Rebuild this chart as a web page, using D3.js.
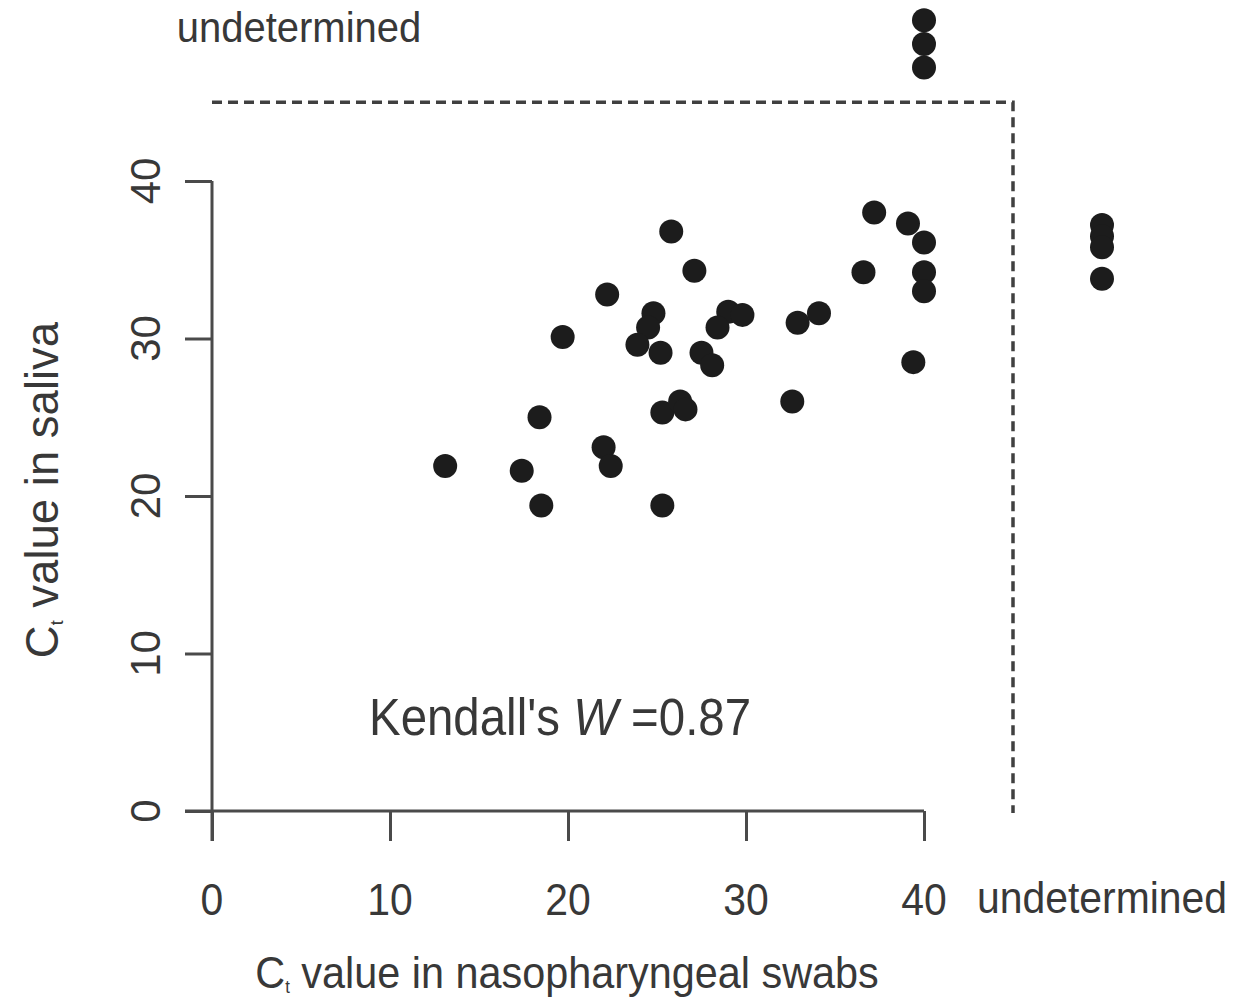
<!DOCTYPE html>
<html><head><meta charset="utf-8">
<script src="https://cdn.jsdelivr.net/npm/d3@7"></script>
<style>body{margin:0;background:#fff}svg{display:block}text{font-family:"Liberation Sans",Arial,sans-serif;fill:#383838}</style>
</head><body>
<svg id="c" width="1256" height="1000"></svg>
<script>
// Determined pairs: Ct in nasopharyngeal swab (x) and saliva (y)
const npSwab = [13.1,17.4,18.5,18.4,19.7,22.2,22.0,22.4,25.3,25.8,27.1,24.8,24.5,23.9,25.2,29.0,29.8,28.4,27.5,28.1,25.3,26.3,26.6,37.2,39.1,40.0,36.6,40.0,40.0,32.9,34.1,39.4,32.6];
const saliva = [21.9,21.6,19.4,25.0,30.1,32.8,23.1,21.9,19.4,36.8,34.3,31.6,30.7,29.6,29.1,31.7,31.5,30.7,29.1,28.3,25.3,26.0,25.5,38.0,37.3,36.1,34.2,34.2,33.0,31.0,31.6,28.5,26.0];
// Saliva undetermined (drawn in the top band): NP swab values, stacked positions
const salivaUndetNP = [40,40,40];
const salivaUndetStack = [47.2,48.7,50.2];
// NP swab undetermined (drawn in the right band): saliva values
const npUndetSaliva = [37.2,36.5,35.8,33.8];
const undetPos = 50;
const cutoff = 45;
const xTicks = [0,10,20,30,40];
const yTicks = [0,10,20,30,40];

const svg = d3.select("#c");
const x = d3.scaleLinear().domain([0,50]).range([212,1102]);
const y = d3.scaleLinear().domain([0,50]).range([811,23.5]);
const axisCol = "#4a4a4a";

// axes
const gx = svg.append("g").attr("transform",`translate(0,${y(0)})`)
  .call(d3.axisBottom(x).tickValues(xTicks).tickSize(30).tickSizeOuter(0).tickFormat(""));
gx.select(".domain").remove();
gx.append("line").attr("x1",x(0)-27).attr("x2",x(40)).attr("stroke",axisCol).attr("stroke-width",3);
gx.selectAll(".tick line").attr("stroke",axisCol).attr("stroke-width",3);

const gy = svg.append("g").attr("transform",`translate(${x(0)},0)`)
  .call(d3.axisLeft(y).tickValues(yTicks).tickSize(27).tickSizeOuter(0).tickFormat(""));
gy.select(".domain").remove();
gy.append("line").attr("y1",y(40)).attr("y2",y(0)+30).attr("stroke",axisCol).attr("stroke-width",3);
gy.selectAll(".tick line").attr("stroke",axisCol).attr("stroke-width",3);

// tick labels
const hs = "scale(0.93,1)";
svg.selectAll(".xl").data(xTicks).join("text")
  .attr("transform",d=>`translate(${x(d)},915) ${hs}`)
  .attr("text-anchor","middle").attr("font-size",44).text(d=>d);
svg.append("text").attr("transform",`translate(${x(undetPos)},913) ${hs}`)
  .attr("text-anchor","middle").attr("font-size",44).text("undetermined");
svg.selectAll(".yl").data(yTicks).join("text")
  .attr("transform",d=>`translate(160,${y(d)}) rotate(-90)`)
  .attr("text-anchor","middle").attr("font-size",42).text(d=>d);
svg.append("text").attr("transform",`translate(299,42) ${hs}`)
  .attr("text-anchor","middle").attr("font-size",43).text("undetermined");

// axis titles
const xt = svg.append("text").attr("transform",`translate(567,988) ${hs}`)
  .attr("text-anchor","middle").attr("font-size",44.5);
xt.append("tspan").text("C");
xt.append("tspan").attr("font-size",18).attr("dy",5).text("t");
xt.append("tspan").attr("dy",-5).text(" value in nasopharyngeal swabs");

const yt = svg.append("text").attr("transform",`translate(58,490) rotate(-90)`)
  .attr("text-anchor","middle").attr("font-size",45.5);
yt.append("tspan").text("C");
yt.append("tspan").attr("font-size",18).attr("dy",5).text("t");
yt.append("tspan").attr("dy",-5).text(" value in saliva");

// Kendall's W
const kt = svg.append("text").attr("transform",`translate(369,735) ${hs}`).attr("font-size",51);
kt.append("tspan").text("Kendall's ");
kt.append("tspan").attr("font-style","italic").text("W");
kt.append("tspan").text(" =0.87");

// cutoff dashed lines
svg.append("path")
  .attr("d",`M${x(0)},${y(cutoff)}H${x(cutoff)}V${y(0)+2}`)
  .attr("fill","none").attr("stroke","#404040").attr("stroke-width",3.5)
  .attr("stroke-dasharray","10,6");

// points
const dotCol = "#1c1c1c", r = 12;
svg.append("g").selectAll("circle").data(npSwab.map((v,i)=>[v,saliva[i]])).join("circle")
  .attr("cx",d=>x(d[0])).attr("cy",d=>y(d[1])).attr("r",r).attr("fill",dotCol);
svg.append("g").selectAll("circle").data(salivaUndetNP.map((v,i)=>[v,salivaUndetStack[i]])).join("circle")
  .attr("cx",d=>x(d[0])).attr("cy",d=>y(d[1])).attr("r",r).attr("fill",dotCol);
svg.append("g").selectAll("circle").data(npUndetSaliva).join("circle")
  .attr("cx",x(undetPos)).attr("cy",d=>y(d)).attr("r",r).attr("fill",dotCol);
</script>
</body></html>
